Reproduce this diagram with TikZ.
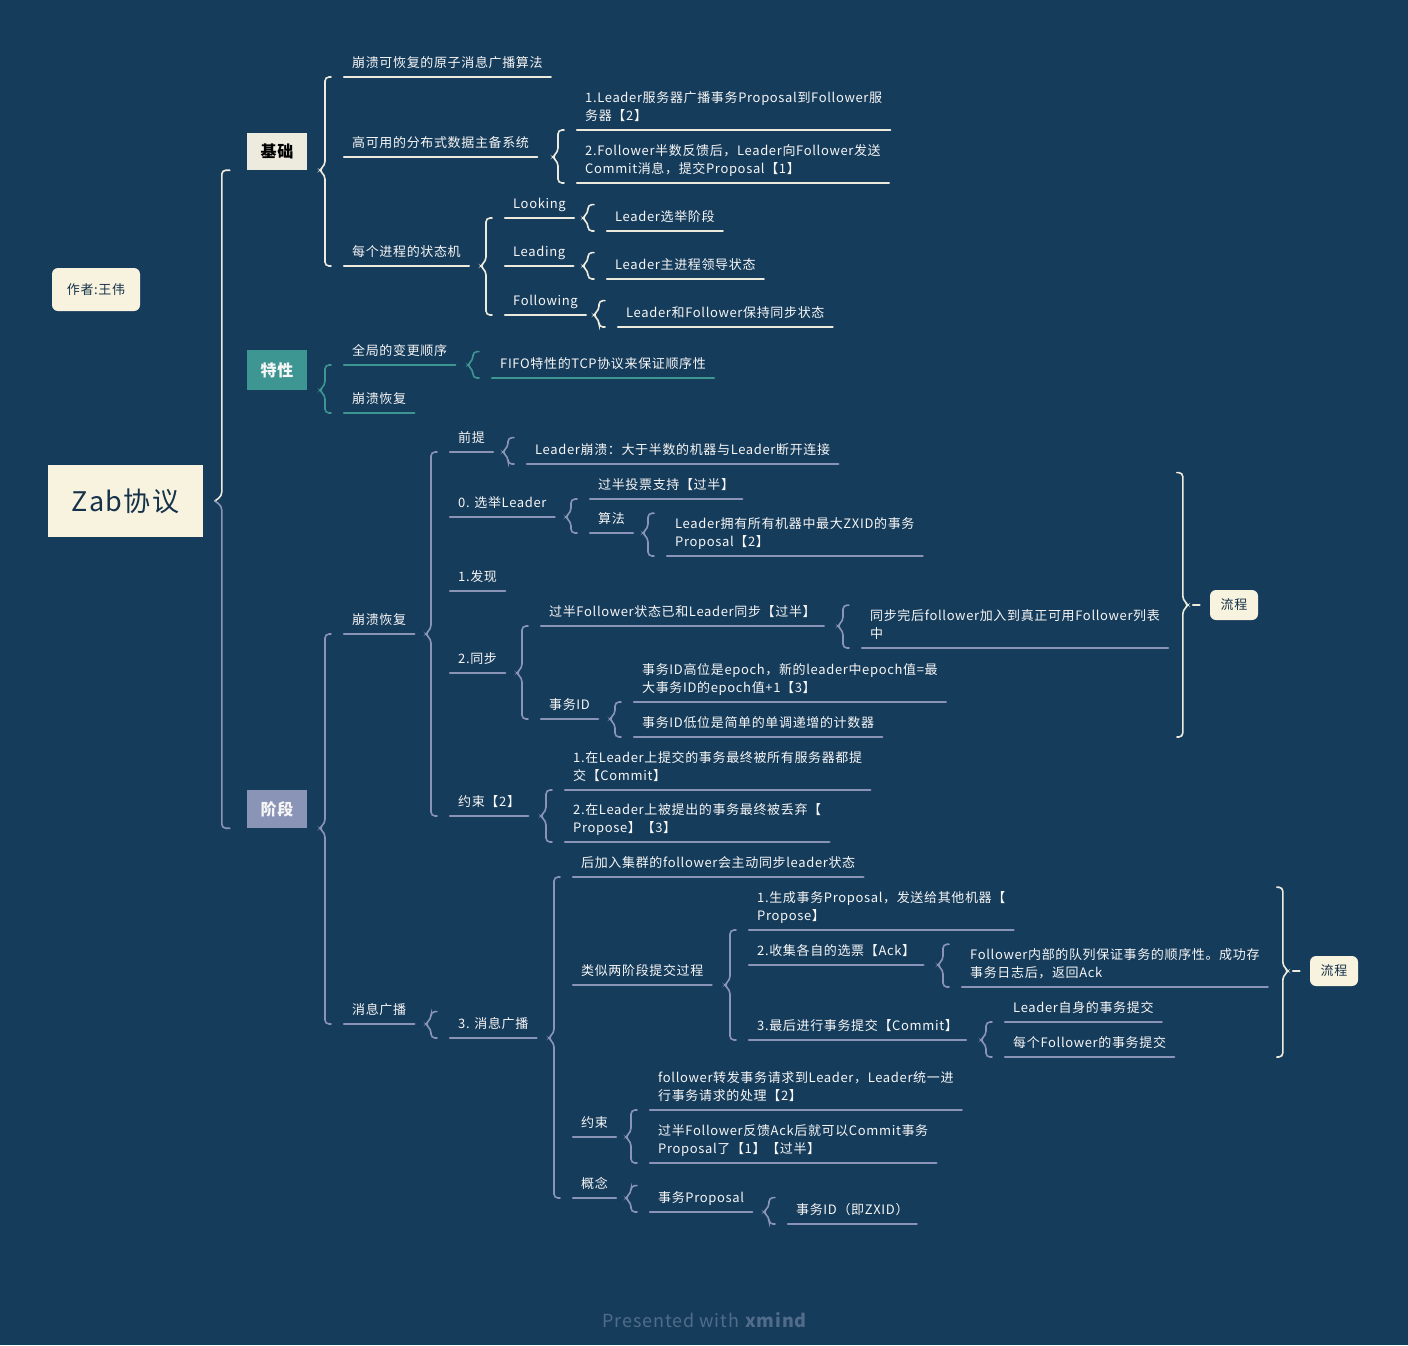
\documentclass[tikz,border=0pt]{standalone}
\usepackage{fontspec}
\setmainfont{Noto Sans CJK SC}[LetterSpace=5]
\usetikzlibrary{calc,positioning}

\definecolor{bg}{RGB}{22,60,91}
\definecolor{cr}{RGB}{237,235,221}
\definecolor{tl}{RGB}{62,150,146}
\definecolor{lv}{RGB}{138,148,182}
\definecolor{txt}{RGB}{246,246,246}
\definecolor{dk}{RGB}{22,50,75}
\definecolor{paper}{RGB}{248,243,222}
\definecolor{foot}{RGB}{80,108,138}

\tikzset{
  tp/.style={anchor=south west, inner xsep=8pt, inner ysep=4pt, text=txt, align=left,
    font=\fontsize{13}{18}\selectfont,
    execute at begin node=\strut, execute at end node=\strut,
    append after command={\pgfextra{\let\tpnode=\tikzlastnode}
      (\tpnode.south west) edge[ul=#1] (\tpnode.south east)}},
  tp/.default=lv,
  ul/.style={draw=#1, line width=2.4pt, line cap=round},
  brc/.style={draw=#1, line width=1.6pt, rounded corners=4pt, line cap=round},
  bx/.style={fill=#1, minimum width=60pt, inner sep=0pt, text=txt,
    font=\fontsize{16}{18}\selectfont\bfseries},
  tag/.style={fill=paper, rounded corners=6pt, text=dk, font=\fontsize{13}{16}\selectfont}
}

% brace from a parent to its children: parent anchor, top point, last child
\newcommand{\bracelink}[4][lv]{%
  \draw[brc=#1] let \p1=(#2), \p2=(#3), \p3=(#4) in
    (\x3-13,\y2) -- (\x3-19,\y2) -- (\x3-19,\y1+5) -- (\x3-25,\y1)
    -- (\x3-19,\y1-5) -- (\x3-19,\y3) -- (\x3-13,\y3);}

\begin{document}
\begin{tikzpicture}[x=1pt,y=-1pt]
\fill[bg] (0,0) rectangle (1408,1345);

% Root and author
\node[fill=paper, minimum width=155pt, minimum height=72pt, text=dk,
  font=\fontsize{27}{30}\selectfont] (root) at (125.5,501) {Zab协议};
\node[tag, minimum width=88pt, minimum height=43pt] (author) at (96,289.5) {作者:王伟};

% Main branches
\node[bx=cr, text=black, minimum height=37pt] (jichu) at (277,151.5) {基础};
\node[bx=tl, minimum height=40pt] (texing) at (277,370) {特性};
\node[bx=lv, minimum height=38pt] (jieduan) at (277,809) {阶段};

\draw[brc=cr] let \p1=(root.east), \p2=(jichu.south west), \p3=(jieduan.south west) in
  (\x2-17,\y2) -- (\x2-25,\y2) -- (\x2-25,\y1+5) -- (\x2-32,\y1);
\draw[brc=lv] let \p1=(root.east), \p2=(jichu.south west), \p3=(jieduan.south west) in
  (\x2-32,\y1) -- (\x2-25,\y1-5) -- (\x2-25,\y3) -- (\x2-17,\y3);

% Basics
\node[tp=cr] (k1) at (344,77) {崩溃可恢复的原子消息广播算法};
\node[tp=cr] (k2) at (344,157) {高可用的分布式数据主备系统};
\node[tp=cr] (k3) at (344,266) {每个进程的状态机};
\bracelink[cr]{jichu.south east}{k1.south west}{k3.south west}

\node[tp=cr] (k21) at (577,130) {1.Leader服务器广播事务Proposal到Follower服\\务器【2】};
\node[tp=cr] (k22) at (577,183) {2.Follower半数反馈后，Leader向Follower发送\\Commit消息，提交Proposal【1】};
\bracelink[cr]{k2.south east}{k21.south west}{k22.south west}

\node[tp=cr] (k31) at (505,218) {Looking};
\node[tp=cr] (k32) at (505,266) {Leading};
\node[tp=cr] (k33) at (505,315) {Following};
\bracelink[cr]{k3.south east}{k31.south west}{k33.south west}

\node[tp=cr] (k311) at (607,231) {Leader选举阶段};
\node[tp=cr] (k321) at (607,279) {Leader主进程领导状态};
\node[tp=cr] (k331) at (618,327) {Leader和Follower保持同步状态};
\bracelink[cr]{k31.south east}{k311.north west}{k311.south west}
\bracelink[cr]{k32.south east}{k321.north west}{k321.south west}
\bracelink[cr]{k33.south east}{k331.north west}{k331.south west}

% Features
\node[tp=tl] (t1) at (344,365) {全局的变更顺序};
\node[tp=tl] (t2) at (344,413) {崩溃恢复};
\bracelink[tl]{texing.south east}{t1.south west}{t2.south west}
\node[tp=tl] (t11) at (492,378) {FIFO特性的TCP协议来保证顺序性};
\bracelink[tl]{t1.south east}{t11.north west}{t11.south west}

% Phases
\node[tp] (p1) at (344,634) {崩溃恢复};
\node[tp] (p2) at (344,1024) {消息广播};
\bracelink{jieduan.south east}{p1.south west}{p2.south west}

% Crash recovery
\node[tp] (p11) at (450,452) {前提};
\node[tp] (p12) at (450,517) {0. 选举Leader};
\node[tp] (p13) at (450,591) {1.发现};
\node[tp] (p14) at (450,673) {2.同步};
\node[tp] (p15) at (450,816) {约束【2】};
\bracelink{p1.south east}{p11.south west}{p15.south west}

\node[tp] (p111) at (527,464) {Leader崩溃：大于半数的机器与Leader断开连接};
\bracelink{p11.south east}{p111.north west}{p111.south west}

\node[tp] (p121) at (590,499) {过半投票支持【过半】};
\node[tp] (p122) at (590,533) {算法};
\bracelink{p12.south east}{p121.south west}{p122.south west}
\node[tp] (p1221) at (667,556) {Leader拥有所有机器中最大ZXID的事务\\Proposal【2】};
\bracelink{p122.south east}{p1221.north west}{p1221.south west}

\node[tp] (p141) at (541,626) {过半Follower状态已和Leader同步【过半】};
\node[tp] (p142) at (541,719) {事务ID};
\bracelink{p14.south east}{p141.south west}{p142.south west}
\node[tp] (p1411) at (862,648) {同步完后follower加入到真正可用Follower列表\\中};
\bracelink{p141.south east}{p1411.north west}{p1411.south west}
\node[tp] (p1421) at (634,702) {事务ID高位是epoch，新的leader中epoch值=最\\大事务ID的epoch值+1【3】};
\node[tp] (p1422) at (634,737) {事务ID低位是简单的单调递增的计数器};
\bracelink{p142.south east}{p1421.south west}{p1422.south west}

\node[tp] (p151) at (565,790) {1.在Leader上提交的事务最终被所有服务器都提\\交【Commit】};
\node[tp] (p152) at (565,842) {2.在Leader上被提出的事务最终被丢弃【\\Propose】【3】};
\bracelink{p15.south east}{p151.south west}{p152.south west}

% Flow summary 1
\node[tag, minimum width=48pt, minimum height=30pt] (flow1) at (1234,605) {流程};
\draw[brc=cr] let \p1=(p121.north west), \p2=(p1422.south west), \p3=(flow1.west) in
  (\x3-33,\y1) -- (\x3-27,\y1) -- (\x3-27,\y3+5) -- (\x3-21,\y3)
  -- (\x3-27,\y3-5) -- (\x3-27,\y2) -- (\x3-33,\y2);
\draw[brc=cr] let \p3=(flow1.west) in (\x3-17,\y3) -- (\x3-10,\y3);

% Broadcast
\node[tp] (p21) at (450,1038) {3. 消息广播};
\bracelink{p2.south east}{p21.north west}{p21.south west}

\node[tp] (m1) at (573,877) {后加入集群的follower会主动同步leader状态};
\node[tp] (m2) at (573,985) {类似两阶段提交过程};
\node[tp] (m3) at (573,1137) {约束};
\node[tp] (m4) at (573,1198) {概念};
\bracelink{p21.south east}{m1.south west}{m4.south west}

\node[tp] (m21) at (749,930) {1.生成事务Proposal，发送给其他机器【\\Propose】};
\node[tp] (m22) at (749,965) {2.收集各自的选票【Ack】};
\node[tp] (m23) at (749,1040) {3.最后进行事务提交【Commit】};
\bracelink{m2.south east}{m21.south west}{m23.south west}
\node[tp] (m221) at (962,987) {Follower内部的队列保证事务的顺序性。成功存\\事务日志后，返回Ack};
\bracelink{m22.south east}{m221.north west}{m221.south west}
\node[tp] (m231) at (1005,1022) {Leader自身的事务提交};
\node[tp] (m232) at (1005,1057) {每个Follower的事务提交};
\bracelink{m23.south east}{m231.south west}{m232.south west}

% Flow summary 2
\node[tag, minimum width=48pt, minimum height=30pt] (flow2) at (1334,971) {流程};
\draw[brc=cr] let \p1=(m21.north west), \p2=(m232.south west), \p3=(flow2.west) in
  (\x3-33,\y1) -- (\x3-27,\y1) -- (\x3-27,\y3+5) -- (\x3-21,\y3)
  -- (\x3-27,\y3-5) -- (\x3-27,\y2) -- (\x3-33,\y2);
\draw[brc=cr] let \p3=(flow2.west) in (\x3-17,\y3) -- (\x3-10,\y3);

\node[tp] (m31) at (650,1110) {follower转发事务请求到Leader，Leader统一进\\行事务请求的处理【2】};
\node[tp] (m32) at (650,1163) {过半Follower反馈Ack后就可以Commit事务\\Proposal了【1】【过半】};
\bracelink{m3.south east}{m31.south west}{m32.south west}

\node[tp] (m41) at (650,1212) {事务Proposal};
\bracelink{m4.south east}{m41.north west}{m41.south west}
\node[tp] (m411) at (788,1224) {事务ID（即ZXID）};
\bracelink{m41.south east}{m411.north west}{m411.south west}

% Footer
\node[text=foot, font=\fontsize{18}{22}\selectfont] (foot) at (705,1320)
  {Presented with \textbf{xmind}};
\end{tikzpicture}
\end{document}
